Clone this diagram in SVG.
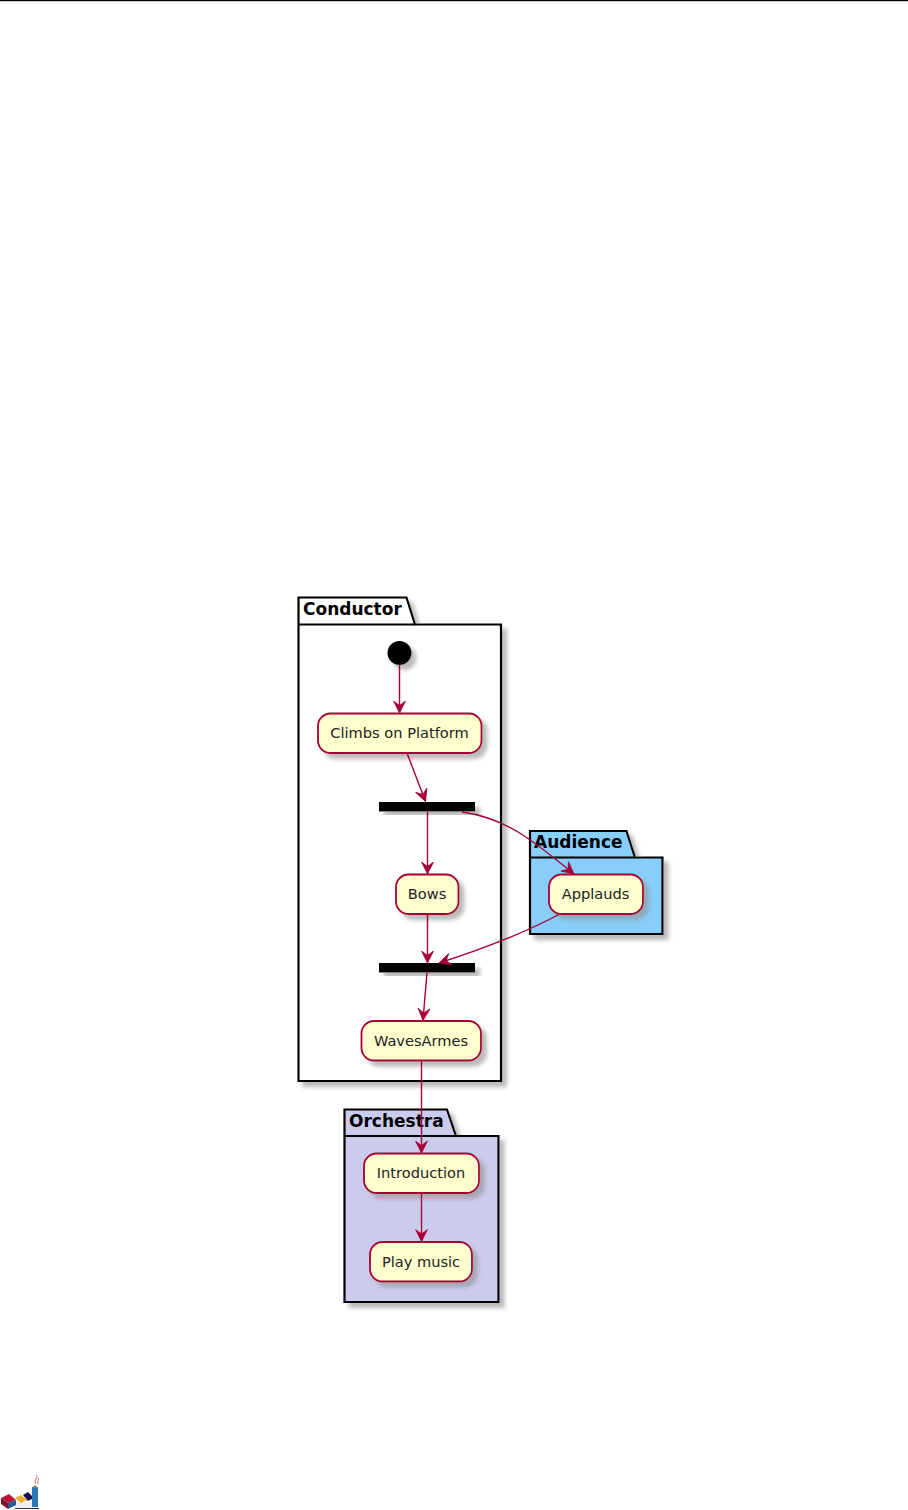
<svg xmlns="http://www.w3.org/2000/svg" width="908" height="1510" viewBox="0 0 908 1510">
<style>
.pkg{stroke:#000;stroke-width:2.2;stroke-linejoin:miter}
.title{font-family:"DejaVu Sans",sans-serif;font-weight:bold;font-size:17px;fill:#000}
.act{fill:#fefece;stroke:#a80036;stroke-width:1.8}
.lbl{font-family:"DejaVu Sans",sans-serif;font-size:14.6px;fill:#222;text-anchor:middle}
.c{fill:none;stroke:#a80036;stroke-width:1.4}
</style>
<defs>
<filter id="sh" x="-20%" y="-20%" width="150%" height="150%"><feGaussianBlur in="SourceAlpha" stdDeviation="2"/><feOffset dx="5" dy="5"/><feColorMatrix values="0 0 0 0 0.3 0 0 0 0 0.3 0 0 0 0 0.3 0 0 0 0.65 0"/><feMerge><feMergeNode/><feMergeNode in="SourceGraphic"/></feMerge></filter>
<marker id="arr" markerUnits="userSpaceOnUse" viewBox="0 0 14 16" refX="12.500" refY="8" markerWidth="14" markerHeight="16" orient="auto"><path d="M0.500,2 L12.500,8 L0.500,14 L5,8 Z" fill="#a80036" stroke="#a80036" stroke-width="0.800"/></marker>
</defs>
<rect id="page-rule" x="0" y="0" width="908" height="1.2" fill="#000"/>
<g id="pkg-conductor"><path class="pkg" fill="#fff" filter="url(#sh)" d="M298.500,597.500H406.500L415,624.500H501V1081H298.500Z"/><path class="pkg" fill="none" d="M298.500,624.500H415"/><text class="title" x="303" y="615">Conductor</text></g>
<g id="pkg-audience"><path class="pkg" fill="#87cefa" filter="url(#sh)" d="M530,831H626.500L635,857.500H662.500V934H530Z"/><path class="pkg" fill="none" d="M530,857.500H635"/><text class="title" x="534" y="848">Audience</text></g>
<g id="pkg-orchestra"><path class="pkg" fill="#cbcbee" filter="url(#sh)" d="M344.500,1109.500H447L456,1136H498.500V1302H344.500Z"/><path class="pkg" fill="none" d="M344.500,1136H456"/><text class="title" x="349" y="1127">Orchestra</text></g>
<g id="start"><circle cx="399.500" cy="653" r="12" fill="#000" filter="url(#sh)"/></g>
<g id="a-climbs"><rect class="act" x="318" y="713.500" width="163.500" height="39.500" rx="12.500" filter="url(#sh)"/><text class="lbl" x="399.500" y="738">Climbs on Platform</text></g>
<g id="bar-fork"><rect x="379" y="802" width="96" height="9.500" fill="#000" filter="url(#sh)"/></g>
<g id="a-bows"><rect class="act" x="396" y="874.500" width="62.500" height="39.500" rx="12.500" filter="url(#sh)"/><text class="lbl" x="427" y="899">Bows</text></g>
<g id="a-applauds"><rect class="act" x="549" y="874.500" width="94" height="39.500" rx="12.500" filter="url(#sh)"/><text class="lbl" x="595.500" y="899">Applauds</text></g>
<g id="bar-join"><rect x="379" y="963" width="96" height="9.500" fill="#000" filter="url(#sh)"/></g>
<g id="a-waves"><rect class="act" x="361.500" y="1021" width="119.500" height="39.500" rx="12.500" filter="url(#sh)"/><text class="lbl" x="421" y="1045.500">WavesArmes</text></g>
<g id="a-intro"><rect class="act" x="364" y="1153.500" width="115" height="39.500" rx="12.500" filter="url(#sh)"/><text class="lbl" x="421" y="1178">Introduction</text></g>
<g id="a-play"><rect class="act" x="370" y="1242" width="102" height="39.500" rx="12.500" filter="url(#sh)"/><text class="lbl" x="421" y="1266.500">Play music</text></g>
<g id="connectors">
<path class="c" marker-end="url(#arr)" d="M399.500,665V713"/>
<path class="c" marker-end="url(#arr)" d="M407,753L425.500,801.500"/>
<path class="c" marker-end="url(#arr)" d="M427.500,811.500V874"/>
<path class="c" marker-end="url(#arr)" d="M462,812C505,818 530,838 574,874"/>
<path class="c" marker-end="url(#arr)" d="M427.500,914V963"/>
<path class="c" marker-end="url(#arr)" d="M559,914.500C520,935 480,950 439,963"/>
<path class="c" marker-end="url(#arr)" d="M427,972.500L423,1020.500"/>
<path class="c" marker-end="url(#arr)" d="M421.500,1060.500V1153"/>
<path class="c" marker-end="url(#arr)" d="M421.500,1193V1241.500"/>
</g>
<g id="logo">
<path d="M14,1502V1508H38V1502Z" fill="#eef0f4"/>
<path d="M1,1498L9,1494L16,1500L8,1503Z" fill="#c01038"/><path d="M1,1498L8,1503V1509L1,1504Z" fill="#801028"/><path d="M8,1503L16,1500V1505L8,1509Z" fill="#1f5f90"/>
<path d="M15,1498L21,1495L27,1500L21,1503Z" fill="#f0b030"/>
<path d="M23,1495L28,1492L34,1498L28,1501Z" fill="#1a1050"/>
<rect x="32" y="1487" width="6" height="20" fill="#2a7ab8"/><path d="M32,1488L35,1485L38,1488Z" fill="#777"/>
<path d="M15,1508.500H39" stroke="#334" fill="none"/>
<path d="M36,1484C33.500,1481 37,1479 37,1475M38,1484C37,1481 39,1480 38.500,1478" stroke="#d04040" stroke-width=".8" fill="none"/>
</g>
</svg>
